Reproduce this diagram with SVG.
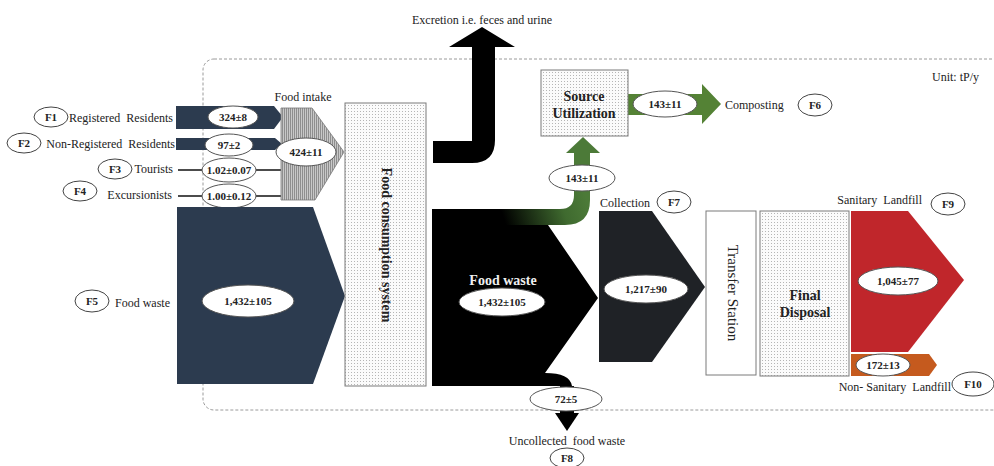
<svg xmlns="http://www.w3.org/2000/svg" width="994" height="466" viewBox="0 0 994 466">
<style>
text{font-family:"Liberation Serif","Times New Roman",serif;fill:#222}
.lbl{font-size:12px}
.val{font-size:11px;font-weight:bold;text-anchor:middle}
.fid{font-size:11px;font-weight:bold;text-anchor:middle}
.bt{font-size:14px;font-weight:bold;text-anchor:middle}
.ov{fill:#fff;stroke:#555;stroke-width:1}
.tag{fill:#fff;stroke:#444;stroke-width:1}
.navy{fill:#2c3b4f}
.box{stroke:#7a7a7a;stroke-width:1}
</style>
<defs>
<pattern id="dots" width="3" height="3" patternUnits="userSpaceOnUse">
<rect width="3" height="3" fill="#fbfbfb"/>
<rect width="1" height="1" fill="#b5b5b5"/>
</pattern>
<pattern id="hatch" width="2" height="3" patternUnits="userSpaceOnUse">
<rect width="2" height="3" fill="#c8c8c8"/>
<rect width="1" height="3" fill="#8e8e8e"/>
</pattern>
<linearGradient id="gr" x1="505" y1="222" x2="585" y2="195" gradientUnits="userSpaceOnUse">
<stop offset="0" stop-color="#000"/>
<stop offset="0.7" stop-color="#3f6a2f"/>
<stop offset="1" stop-color="#4c7a38"/>
</linearGradient>
</defs>
<rect width="994" height="466" fill="#fff"/>
<rect x="203" y="59" width="810" height="351" rx="11" fill="none" stroke="#9a9a9a" stroke-width="1" stroke-dasharray="3,2"/>
<text x="932" y="81" class="lbl">Unit: tP/y</text>

<g id="connectors">
<g id="f1">
<polygon class="navy" points="176,106 274,106 283,117 274,129 176,129"/>
<ellipse class="ov" cx="233" cy="117" rx="25" ry="11"/>
<text class="val" x="233" y="121">324±8</text>
</g>
<g id="f2">
<polygon class="navy" points="176,138 275,138 282,144 275,150 176,150"/>
<ellipse class="ov" cx="229" cy="145" rx="24" ry="11"/>
<text class="val" x="229" y="149">97±2</text>
</g>
<g id="f3">
<line x1="178" y1="170" x2="281" y2="170" stroke="#111" stroke-width="1.5"/>
<ellipse class="ov" cx="229" cy="170" rx="27" ry="12"/>
<text class="val" x="229" y="174">1.02±0.07</text>
</g>
<g id="f4">
<line x1="178" y1="196" x2="281" y2="196" stroke="#111" stroke-width="1.5"/>
<ellipse class="ov" cx="229" cy="196" rx="27" ry="12"/>
<text class="val" x="229" y="200">1.00±0.12</text>
</g>
<g id="f5">
<polygon class="navy" points="177,207 313,207 345,296 313,384 177,384"/>
<ellipse class="ov" cx="248" cy="301" rx="46" ry="16"/>
<text class="val" x="248" y="305">1,432±105</text>
</g>
<g id="excretion">
<path d="M433,141 L472,141 L472,47 L449,47 L482,27 L515,47 L495,47 L495,140 Q495,163 472,163 L433,163 Z" fill="#000"/>
</g>
<g id="foodwaste">
<path d="M432,209 L505,209 L505,225 L548,225 L598,298 L545,373 Q570,373 572,386 L432,386 Z" fill="#000"/>
<text x="503" y="285" class="bt" font-size="15" style="fill:#f0f0f0">Food waste</text>
<ellipse class="ov" cx="502" cy="302" rx="43" ry="14"/>
<text class="val" x="502" y="306">1,432±105</text>
</g>
<g id="source-flow">
<path d="M500,209 L560,209 Q574,209 574,195 L574,153 L566,153 L583,137 L600,153 L590,153 L590,200 Q590,225 565,225 L500,225 Z" fill="url(#gr)"/>
<ellipse class="ov" cx="582" cy="178" rx="33" ry="13"/>
<text class="val" x="582" y="182">143±11</text>
</g>
<g id="composting">
<polygon points="628,94 702,94 702,84 721,104 702,124 702,115 628,115" fill="#548235"/>
<ellipse class="ov" cx="665" cy="104" rx="32" ry="13"/>
<text class="val" x="665" y="108">143±11</text>
</g>
<g id="uncollected">
<rect x="560" y="386" width="14" height="27" fill="#000"/>
<polygon points="555,413 579,413 567,431" fill="#000"/>
<ellipse class="ov" cx="566" cy="399" rx="36" ry="12"/>
<text class="val" x="566" y="403">72±5</text>
</g>
<g id="collection">
<polygon points="599,211 652,211 705,287 652,362 599,362" fill="#1f2226"/>
<ellipse class="ov" cx="646" cy="289" rx="42" ry="14"/>
<text class="val" x="646" y="293">1,217±90</text>
</g>
<g id="sanitary">
<polygon points="851,211 908,211 964,280 908,352 851,352" fill="#c0262b"/>
<ellipse class="ov" cx="898" cy="281" rx="40" ry="14"/>
<text class="val" x="898" y="285">1,045±77</text>
</g>
<g id="nonsanitary">
<polygon points="851,354 929,354 937,365 929,376 851,376" fill="#c55a1e"/>
<ellipse class="ov" cx="883" cy="365" rx="27" ry="11"/>
<text class="val" x="883" y="369">172±13</text>
</g>
</g>

<g id="food-intake">
<polygon points="281,108 312,108 344,152 315,200 281,200" fill="url(#hatch)" stroke="#777" stroke-width="0.8"/>
<ellipse class="ov" cx="306" cy="152" rx="30" ry="14"/>
<text class="val" x="306" y="156">424±11</text>
<text x="303" y="101" class="lbl" font-size="13" text-anchor="middle">Food intake</text>
</g>

<g id="food-consumption">
<rect x="345" y="103" width="81" height="283" fill="url(#dots)" class="box"/>
<text x="385" y="245" transform="rotate(90 385 245)" class="bt" dominant-baseline="middle">Food consumption system</text>
</g>

<g id="source-utilization">
<rect x="541" y="70" width="87" height="66" fill="url(#dots)" class="box"/>
<text x="584" y="101" class="bt">Source</text>
<text x="584" y="118" class="bt">Utilization</text>
</g>

<g id="transfer-station">
<rect x="706" y="211" width="50" height="164" fill="#fff" class="box"/>
<text x="731" y="293" transform="rotate(90 731 293)" text-anchor="middle" dominant-baseline="middle" font-size="15">Transfer Station</text>
</g>

<g id="final-disposal">
<rect x="760" y="211" width="89" height="165" fill="url(#dots)" class="box"/>
<text x="805" y="300" class="bt">Final</text>
<text x="805" y="317" class="bt">Disposal</text>
</g>

<g id="F1"><ellipse class="tag" cx="51" cy="117" rx="17" ry="10"/><text class="fid" x="51" y="121">F1</text><text class="lbl" x="173" y="122" text-anchor="end" xml:space="preserve">Registered  Residents</text></g>
<g id="F2"><ellipse class="tag" cx="24" cy="143" rx="17" ry="10"/><text class="fid" x="24" y="147">F2</text><text class="lbl" x="175" y="148" text-anchor="end" xml:space="preserve">Non-Registered  Residents</text></g>
<g id="F3"><ellipse class="tag" cx="115" cy="169" rx="17" ry="10"/><text class="fid" x="115" y="173">F3</text><text class="lbl" x="173" y="173" text-anchor="end">Tourists</text></g>
<g id="F4"><ellipse class="tag" cx="80" cy="191" rx="17" ry="10"/><text class="fid" x="80" y="195">F4</text><text class="lbl" x="172" y="199" text-anchor="end">Excursionists</text></g>
<g id="F5"><ellipse class="tag" cx="92" cy="301" rx="17" ry="11"/><text class="fid" x="92" y="305">F5</text><text class="lbl" x="115" y="307">Food waste</text></g>
<g id="F6"><text class="lbl" x="725" y="109" font-size="13">Composting</text><ellipse class="tag" cx="815" cy="105" rx="17" ry="11"/><text class="fid" x="815" y="109">F6</text></g>
<g id="F7"><text class="lbl" x="600" y="207">Collection</text><ellipse class="tag" cx="674" cy="202" rx="17" ry="11"/><text class="fid" x="674" y="206">F7</text></g>
<g id="F8"><text class="lbl" x="567" y="445" text-anchor="middle" xml:space="preserve">Uncollected  food waste</text><ellipse class="tag" cx="567" cy="458" rx="17" ry="10"/><text class="fid" x="567" y="462">F8</text></g>
<g id="F9"><text class="lbl" x="922" y="204" text-anchor="end" xml:space="preserve">Sanitary  Landfill</text><ellipse class="tag" cx="948" cy="204" rx="17" ry="11"/><text class="fid" x="948" y="208">F9</text></g>
<g id="F10"><text class="lbl" x="951" y="391" text-anchor="end" xml:space="preserve">Non- Sanitary  Landfill</text><ellipse class="tag" cx="973" cy="384" rx="21" ry="12"/><text class="fid" x="973" y="388">F10</text></g>
<g id="excretion-label"><text class="lbl" font-size="12.5" x="482" y="24" text-anchor="middle">Excretion i.e. feces and urine</text></g>
</svg>
